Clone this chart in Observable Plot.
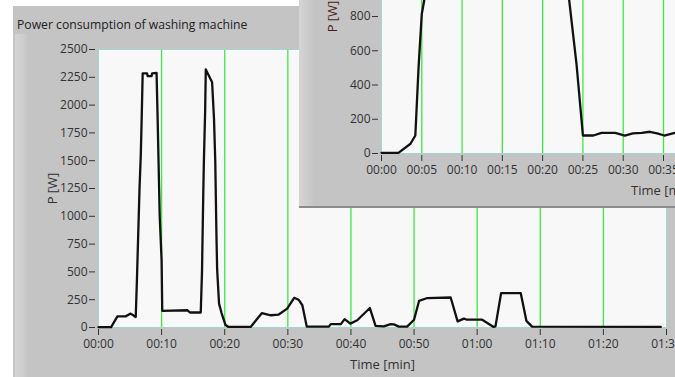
<!DOCTYPE html>
<html><head><meta charset="utf-8">
<script src="https://cdn.jsdelivr.net/npm/d3@7"></script>
<script src="https://cdn.jsdelivr.net/npm/@observablehq/plot@0.6"></script>
<style>
html,body{margin:0;padding:0;width:675px;height:377px;overflow:hidden;background:#fff;font-family:"Open Sans",sans-serif;}
#panel{position:absolute;left:13px;top:6px;width:662px;height:371px;background:#c4c4c4;}
#bevel{position:absolute;left:15px;top:34px;width:13px;height:343px;background:linear-gradient(to right,#d3d3d3,#cecece 60%,#c4c4c4);}
#title{position:absolute;left:17px;top:17px;font-size:12.2px;line-height:15px;color:#222;white-space:nowrap;}
#main{position:absolute;left:0;top:0;}
#inset{position:absolute;left:299px;top:0;width:376px;height:206px;background:#c4c4c4;overflow:hidden;border-bottom:2px solid #8c8c8c;}
#insetBevel{position:absolute;left:0;top:0;width:16px;height:100%;background:linear-gradient(to right,#d5d5d5,#c4c4c4);}
#insetPlot{position:absolute;left:0;top:-140px;}
svg{max-width:none !important;}
</style>
</head><body>
<div id="panel"></div>
<div id="bevel"></div>
<div id="title">Power consumption of washing machine</div>
<div id="main"></div>
<div id="inset"><div id="insetBevel"></div><div id="insetPlot"></div></div>
<script>
// Main chart: time in minutes, power in W
const mainTime  = [0,2,3,4.3,5.1,5.9,6.1,6.5,6.7,6.85,7.0,7.7,7.8,8.4,8.5,9.2,9.35,9.55,9.7,10.0,10.1,14.1,14.5,16.2,16.4,16.6,16.7,16.9,17.0,18.0,18.3,18.5,18.7,18.8,19.1,19.5,20.1,20.6,24.1,24.9,25.9,27.3,28.5,29.9,31.0,31.7,32.3,33.0,36.5,36.8,38.4,39.0,39.9,41.0,43.0,43.9,45.2,46.3,46.8,47.6,48.9,50.0,50.8,52.1,55.8,56.9,57.9,58.4,60.8,62.6,62.9,63.8,66.9,67.8,68.7,89.1];
const mainPower = [3,3,100,100,125,95,450,1250,1550,1900,2285,2285,2260,2260,2285,2290,1930,1400,1000,600,150,155,135,135,500,1200,1500,1950,2320,2205,1880,1500,800,520,215,130,25,5,5,60,130,110,115,170,267,250,200,8,8,30,30,75,35,65,175,15,10,30,28,8,8,70,240,265,270,55,80,70,70,5,10,310,310,60,8,5];
const mainXTicks = [0,10,20,30,40,50,60,70,80,90];
const mainGrid   = [10,20,30,40,50,60,70,80];
const mainYTicks = [0,250,500,750,1000,1250,1500,1750,2000,2250,2500];

// Inset chart
const insetTime  = [0,2.1,3.6,4.2,4.6,5.0,5.3,5.6,23.0,23.3,24.2,25.0,26.3,27.3,29.0,30.2,31.2,32.3,33.3,34.2,35.1,36.4,38];
const insetPower = [4,4,57,105,504,815,893,1500,1500,893,524,105,105,120,120,105,118,120,127,118,105,120,118];
const insetXTicks = [0,5,10,15,20,25,30,35,40,45,50,55,60,65,70];
const insetGrid   = [5,10,15,20,25,30,35,40,45,50,55,60,65];
const insetYTicks = [0,200,400,600,800,1000,1200,1400,1600];

const fmt = m => String(Math.floor(m/60)).padStart(2,"0") + ":" + String(m % 60).padStart(2,"0");
const yfmt = d => String(d);
const GREEN = "#3fe83f", FRAME = "#9fd8d2", BG = "#f8f8f8";

const mainData = mainTime.map((t,i) => ({t, p: mainPower[i]}));
const insetData = insetTime.map((t,i) => ({t, p: insetPower[i]}));

const main = Plot.plot({
  width: 700, height: 377,
  marginLeft: 98, marginRight: 34, marginTop: 49, marginBottom: 50,
  style: {background: "transparent", fontFamily: "Open Sans", fontSize: "12px", color: "#333", overflow: "visible"},
  x: {domain: [0, 90]},
  y: {domain: [0, 2500]},
  marks: [
    Plot.frame({fill: BG}),
    Plot.ruleX(mainGrid, {stroke: GREEN, strokeWidth: 1.3}),
    Plot.frame({stroke: FRAME}),
    Plot.line(mainData, {x: "t", y: "p", stroke: "#111", strokeWidth: 2.3, strokeLinejoin: "round"}),
    Plot.axisY(mainYTicks, {tickFormat: yfmt, tickSize: 6, tickPadding: 2, dx: -3, label: null}),
    Plot.axisX(mainXTicks, {tickFormat: fmt, tickSize: 6, tickPadding: 4, dy: 2, label: null}),
    Plot.text(["Time [min]"], {frameAnchor: "bottom", dy: 41, lineAnchor: "bottom", fontSize: 13}),
    Plot.text(["P [W]"], {frameAnchor: "left", textAnchor: "middle", rotate: -90, dx: -51, lineAnchor: "top", fontSize: 13})
  ]
});
main.style.maxWidth = "none";
document.getElementById("main").append(main);

const inset = Plot.plot({
  width: 676, height: 348,
  marginLeft: 82, marginRight: 30, marginTop: 19, marginBottom: 55,
  style: {background: "transparent", fontFamily: "Open Sans", fontSize: "12px", color: "#333", overflow: "visible"},
  x: {domain: [0, 70]},
  y: {domain: [0, 1600]},
  marks: [
    Plot.frame({fill: BG}),
    Plot.ruleX(insetGrid, {stroke: GREEN, strokeWidth: 1.3}),
    Plot.frame({stroke: FRAME}),
    Plot.line(insetData, {x: "t", y: "p", stroke: "#111", strokeWidth: 2.3, strokeLinejoin: "round"}),
    Plot.axisY(insetYTicks, {tickFormat: yfmt, tickSize: 6, tickPadding: 2, dx: -3, label: null}),
    Plot.axisX(insetXTicks, {tickFormat: fmt, tickSize: 6, tickPadding: 4, dy: 2, label: null}),
    Plot.text(["Time [min]"], {frameAnchor: "bottom", dy: 41, lineAnchor: "bottom", fontSize: 13}),
    Plot.text(["P [W]"], {frameAnchor: "left", textAnchor: "middle", rotate: -90, dx: -54, lineAnchor: "top", fontSize: 13, fill: "#4a1c1c"})
  ]
});
inset.style.maxWidth = "none";
document.getElementById("insetPlot").append(inset);
</script>
</body></html>
